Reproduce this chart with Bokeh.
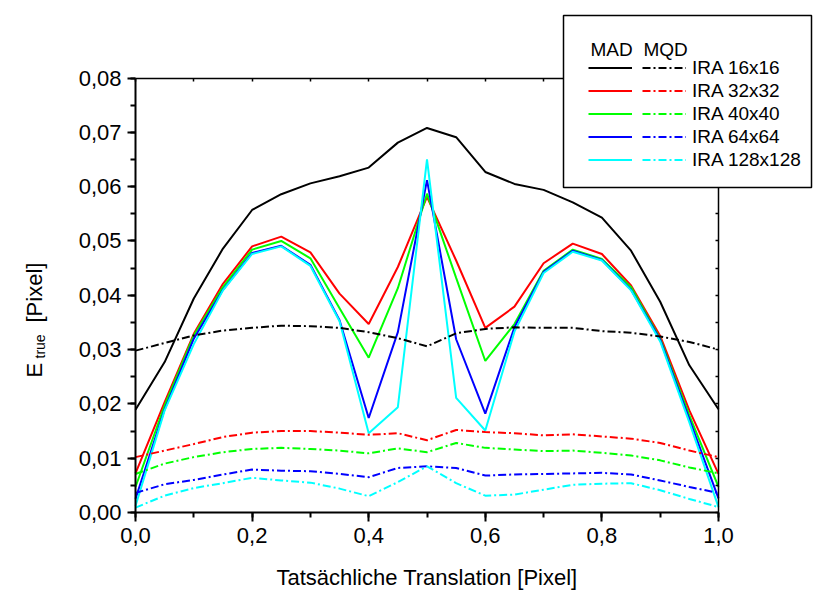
import math
from bokeh.plotting import figure
from bokeh.models import (Range1d, LinearAxis, SingleIntervalTicker, CustomJSTickFormatter,
                          Legend, LegendItem, Label, BoxAnnotation)
from bokeh.core.properties import value
from bokeh.embed import file_html
from bokeh.resources import INLINE

FONT = "Liberation Sans"

# ---------------- data ----------------
x = [0.0, 0.05, 0.1, 0.15, 0.2, 0.25, 0.3, 0.35, 0.4, 0.45, 0.5,
     0.55, 0.6, 0.65, 0.7, 0.75, 0.8, 0.85, 0.9, 0.95, 1.0]

mad16 = [0.0189, 0.0277, 0.0394, 0.0486, 0.0557, 0.0586, 0.0606, 0.0619, 0.0635, 0.0681, 0.0708,
         0.0691, 0.0627, 0.0605, 0.0594, 0.0571, 0.0543, 0.0482, 0.0388, 0.0271, 0.0190]
mqd16 = [0.0298, 0.0312, 0.0326, 0.0335, 0.0340, 0.0344, 0.0343, 0.0340, 0.0332, 0.0321, 0.0306,
         0.0330, 0.0338, 0.0341, 0.0340, 0.0340, 0.0334, 0.0331, 0.0324, 0.0314, 0.0300]
mad32 = [0.0072, 0.0203, 0.0329, 0.0421, 0.0490, 0.0508, 0.0479, 0.0403, 0.0347, 0.0452, 0.0581,
         0.0464, 0.0340, 0.0379, 0.0459, 0.0495, 0.0476, 0.0418, 0.0325, 0.0188, 0.0071]
mqd32 = [0.0102, 0.0114, 0.0126, 0.0139, 0.0147, 0.0150, 0.0150, 0.0147, 0.0143, 0.0146, 0.0133,
         0.0152, 0.0148, 0.0146, 0.0142, 0.0144, 0.0140, 0.0136, 0.0128, 0.0114, 0.0102]
mad40 = [0.0047, 0.0197, 0.0326, 0.0415, 0.0484, 0.0500, 0.0468, 0.0376, 0.0285, 0.0413, 0.0587,
         0.0432, 0.0279, 0.0347, 0.0445, 0.0484, 0.0467, 0.0415, 0.0320, 0.0179, 0.0047]
mqd40 = [0.0071, 0.0090, 0.0102, 0.0111, 0.0117, 0.0119, 0.0117, 0.0114, 0.0109, 0.0118, 0.0111,
         0.0128, 0.0119, 0.0116, 0.0113, 0.0114, 0.0110, 0.0105, 0.0096, 0.0083, 0.0072]
mad64 = [0.0025, 0.0190, 0.0320, 0.0410, 0.0478, 0.0491, 0.0456, 0.0354, 0.0174, 0.0332, 0.0612,
         0.0319, 0.0182, 0.0341, 0.0443, 0.0482, 0.0465, 0.0410, 0.0318, 0.0172, 0.0026]
mqd64 = [0.0036, 0.0052, 0.0060, 0.0070, 0.0079, 0.0077, 0.0076, 0.0071, 0.0065, 0.0082, 0.0085,
         0.0082, 0.0068, 0.0070, 0.0071, 0.0072, 0.0073, 0.0070, 0.0059, 0.0047, 0.0036]
mad128 = [0.0012, 0.0188, 0.0310, 0.0409, 0.0476, 0.0490, 0.0454, 0.0352, 0.0146, 0.0194, 0.0650,
          0.0211, 0.0151, 0.0333, 0.0441, 0.0480, 0.0464, 0.0409, 0.0315, 0.0166, 0.0010]
mqd128 = [0.0009, 0.0031, 0.0045, 0.0054, 0.0064, 0.0059, 0.0055, 0.0044, 0.0030, 0.0056, 0.0085,
          0.0054, 0.0031, 0.0033, 0.0042, 0.0051, 0.0053, 0.0054, 0.0041, 0.0025, 0.0010]

series_names = ["IRA 16x16", "IRA 32x32", "IRA 40x40", "IRA 64x64", "IRA 128x128"]
series_colors = ["#000000", "#ff0000", "#00ff00", "#0000ff", "#00ffff"]
mad_values = [mad16, mad32, mad40, mad64, mad128]
mqd_values = [mqd16, mqd32, mqd40, mqd64, mqd128]

x_bounds = (0.0, 1.0)
y_bounds = (0.0, 0.08)
x_label = "Tatsächliche Translation [Pixel]"
y_label_main = "E"
y_label_sub = "true"
y_label_unit = "[Pixel]"
legend_headers = ["MAD", "MQD"]

# ---------------- layout (canvas pixels, top-left origin) ----------------
W, H = 816, 590
AX_L, AX_R, AX_T, AX_B = 135, 718, 77.5, 512   # where the axis box sits on the canvas

sx = (x_bounds[1] - x_bounds[0]) / (AX_R - AX_L)
sy = (y_bounds[1] - y_bounds[0]) / (AX_B - AX_T)
x_range = Range1d(x_bounds[0] - AX_L * sx, x_bounds[1] + (W - AX_R) * sx)
y_range = Range1d(y_bounds[0] - (H - AX_B) * sy, y_bounds[1] + AX_T * sy)

p = figure(width=W, height=H, x_range=x_range, y_range=y_range,
           x_axis_type=None, y_axis_type=None, title=None,
           output_backend="svg", toolbar_location=None,
           min_border_left=0, min_border_right=0, min_border_top=0, min_border_bottom=0)
p.outline_line_color = None
p.background_fill_color = "white"
p.border_fill_color = "white"

def style_axis(ax, lw):
    ax.axis_line_color = "black"
    ax.axis_line_width = lw
    ax.major_tick_line_color = "black"
    ax.minor_tick_line_color = "black"
    ax.major_tick_line_width = lw
    ax.minor_tick_line_width = lw
    ax.major_label_text_font = FONT
    ax.major_label_text_font_size = "22px"
    ax.major_label_text_color = "black"

xb = LinearAxis(ticker=SingleIntervalTicker(interval=0.2, num_minor_ticks=2),
                formatter=CustomJSTickFormatter(code="return tick.toFixed(1).replace('.', ',');"),
                fixed_location=y_bounds[0], bounds=x_bounds)
style_axis(xb, 2)
xb.major_tick_in = 0
xb.major_tick_out = 9
xb.minor_tick_in = 0
xb.minor_tick_out = 5
xb.major_label_standoff = 6
p.add_layout(xb, "below")

yl = LinearAxis(ticker=SingleIntervalTicker(interval=0.01, num_minor_ticks=2),
                formatter=CustomJSTickFormatter(code="return tick.toFixed(2).replace('.', ',');"),
                fixed_location=x_bounds[0], bounds=y_bounds)
style_axis(yl, 2)
yl.major_tick_in = 0
yl.major_tick_out = 8
yl.minor_tick_in = 0
yl.minor_tick_out = 5
yl.major_label_standoff = 6
p.add_layout(yl, "left")

xt = LinearAxis(ticker=SingleIntervalTicker(interval=0.1, num_minor_ticks=0),
                formatter=CustomJSTickFormatter(code="return '';"),
                fixed_location=y_bounds[1], bounds=x_bounds)
style_axis(xt, 1.5)
xt.major_tick_in = 3
xt.major_tick_out = 0
xt.minor_tick_line_color = None
p.add_layout(xt, "above")

yr = LinearAxis(ticker=SingleIntervalTicker(interval=0.005, num_minor_ticks=0),
                formatter=CustomJSTickFormatter(code="return '';"),
                fixed_location=x_bounds[1], bounds=y_bounds)
style_axis(yr, 1.5)
yr.major_tick_in = 3
yr.major_tick_out = 0
yr.minor_tick_line_color = None
p.add_layout(yr, "right")

# ---------------- lines ----------------
mad_r, mqd_r = [], []
for vals, col in zip(mad_values, series_colors):
    mad_r.append(p.line(x, vals, line_color=col, line_width=2))
for vals, col in zip(mqd_values, series_colors):
    mqd_r.append(p.line(x, vals, line_color=col, line_width=2, line_dash="8 3 2 3"))

# ---------------- legend (screen units: from canvas bottom-left) ----------------
box = BoxAnnotation(left=563, right=811, top=H - 15, bottom=H - 187,
                    left_units="screen", right_units="screen",
                    top_units="screen", bottom_units="screen",
                    fill_color="white", fill_alpha=1.0,
                    line_color="black", line_width=1.5, line_alpha=1.0)
p.add_layout(box)

def make_legend(items, loc):
    return Legend(items=items, location=loc, orientation="vertical",
                  padding=0, margin=0, spacing=0,
                  glyph_width=44, glyph_height=23, label_height=23, label_standoff=6,
                  label_text_font=FONT, label_text_font_size="19px", label_text_color="black",
                  border_line_color=None, background_fill_alpha=0.0)

leg_bottom = H - 171
leg_mad = make_legend([LegendItem(label=value(" "), renderers=[r]) for r in mad_r], (588, leg_bottom))
leg_mqd = make_legend([LegendItem(label=value(n), renderers=[r]) for n, r in zip(series_names, mqd_r)],
                      (642, leg_bottom))
p.add_layout(leg_mad)
p.add_layout(leg_mqd)

for txt, xs in zip(legend_headers, [590, 643]):
    p.add_layout(Label(x=xs, y=H - 49, x_units="screen", y_units="screen", text=txt,
                       text_font=FONT, text_font_size="19px", text_color="black",
                       text_baseline="alphabetic", text_align="left"))

# ---------------- axis titles ----------------
p.add_layout(Label(x=(AX_L + AX_R) / 2, y=H - 577, x_units="screen", y_units="screen", text=x_label,
                   text_font=FONT, text_font_size="22px", text_color="black",
                   text_baseline="alphabetic", text_align="center"))

ang = math.pi / 2
E_X, E_Y = 34, H - 377
p.add_layout(Label(x=E_X, y=E_Y, x_units="screen", y_units="screen", text=y_label_main,
                   angle=ang, text_font=FONT, text_font_size="22px", text_color="black",
                   text_baseline="alphabetic", text_align="left"))
p.add_layout(Label(x=E_X + 5, y=E_Y + 19, x_units="screen", y_units="screen", text=y_label_sub,
                   angle=ang, text_font=FONT, text_font_size="14px", text_color="black",
                   text_baseline="alphabetic", text_align="left"))
p.add_layout(Label(x=E_X, y=E_Y + 55, x_units="screen", y_units="screen", text=y_label_unit,
                   angle=ang, text_font=FONT, text_font_size="22px", text_color="black",
                   text_baseline="alphabetic", text_align="left"))

open("out.html", "w").write(file_html(p, INLINE))
